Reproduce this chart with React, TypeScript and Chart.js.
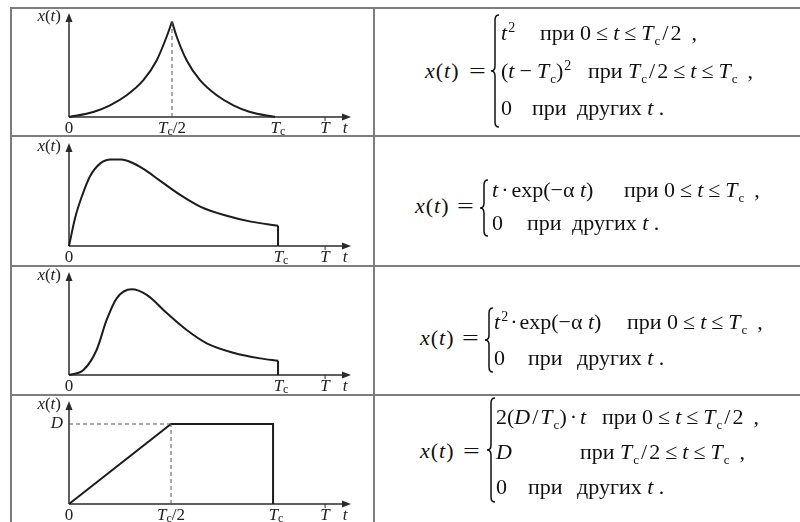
import React, { useEffect, useRef } from "react";
import { Chart, registerables } from "chart.js";
Chart.register(...registerables);

// ---------- data (t in units of Tc, x normalised to peak) ----------
// Row 1: x(t) = t^2 / (t - Tc)^2
const r1RiseT = [0, 0.118, 0.199, 0.28, 0.361, 0.426, 0.474, 0.5];
const r1RiseX = [0, 0.053, 0.123, 0.228, 0.386, 0.596, 0.842, 1.0];
const r1FallT = [0.5, 0.523, 0.571, 0.636, 0.717, 0.798, 0.879, 1.0];
const r1FallX = [1.0, 0.842, 0.596, 0.386, 0.228, 0.123, 0.053, 0];
// Row 2: t * exp(-a t)
const r2T = [0, 0.03, 0.06, 0.1, 0.15, 0.2, 0.25, 0.3, 0.36, 0.43, 0.53, 0.63, 0.75, 0.87, 1.0];
const r2X = [0, 0.33, 0.56, 0.8, 0.95, 0.995, 0.995, 0.96, 0.88, 0.76, 0.59, 0.45, 0.35, 0.28, 0.233];
// Row 3: t^2 * exp(-a t)
const r3T = [0, 0.069, 0.132, 0.18, 0.228, 0.3, 0.372, 0.469, 0.563, 0.659, 0.786, 0.914, 1.0];
const r3X = [0, 0.058, 0.292, 0.642, 0.895, 1.0, 0.934, 0.72, 0.525, 0.37, 0.26, 0.194, 0.167];
// Row 4: trapezoid
const r4T = [0, 0.5, 1.0, 1.0];
const r4X = [0, 1.0, 1.0, 0];
// axis ranges / tick positions
const xMaxes = [1.369, 1.349, 1.349, 1.382];
const yMaxes = [1.091, 1.184, 1.202, 1.2875];
const tPositions = [1.243, 1.225, 1.225, 1.255];
const halfTick = [true, false, false, true];

const pts = (t: number[], x: number[]) => t.map((v, i) => ({ x: v, y: x[i] }));

type Part = { t: string; it?: boolean; sub?: boolean };
const drawRich = (ctx: CanvasRenderingContext2D, parts: Part[], cx: number, cy: number, align: "center" | "right" = "center") => {
  const fontOf = (p: Part) => (p.sub ? "12px 'Liberation Serif'" : `${p.it ? "italic " : ""}17px 'Liberation Serif'`);
  let w = 0;
  parts.forEach((p) => { ctx.font = fontOf(p); w += ctx.measureText(p.t).width; });
  let x = align === "center" ? cx - w / 2 : cx - w;
  ctx.textBaseline = "middle";
  ctx.textAlign = "left";
  parts.forEach((p) => {
    ctx.font = fontOf(p);
    ctx.fillText(p.t, x, cy + (p.sub ? 3 : 0));
    x += ctx.measureText(p.t).width;
  });
};

const axesDecor = {
  id: "axesDecor",
  beforeDatasetsDraw(chart: any, _a: any, opts: any) {
    const { ctx, chartArea: ca, scales } = chart;
    const xs = scales.x, ys = scales.y;
    const x0 = xs.getPixelForValue(0), y0 = ys.getPixelForValue(0);
    ctx.save();
    ctx.strokeStyle = "#2a2a2a";
    ctx.fillStyle = "#2a2a2a";
    ctx.lineWidth = 1.5;
    ctx.beginPath(); ctx.moveTo(x0, y0); ctx.lineTo(x0, ca.top + 5); ctx.stroke();
    ctx.beginPath(); ctx.moveTo(x0, ca.top); ctx.lineTo(x0 - 3.5, ca.top + 9); ctx.lineTo(x0 + 3.5, ca.top + 9); ctx.closePath(); ctx.fill();
    ctx.beginPath(); ctx.moveTo(x0, y0); ctx.lineTo(ca.right - 5, y0); ctx.stroke();
    ctx.beginPath(); ctx.moveTo(ca.right, y0); ctx.lineTo(ca.right - 9, y0 - 3.5); ctx.lineTo(ca.right - 9, y0 + 3.5); ctx.closePath(); ctx.fill();
    const tp = xs.getPixelForValue(opts.tPos);
    ctx.lineWidth = 1;
    ctx.beginPath(); ctx.moveTo(tp, y0); ctx.lineTo(tp, y0 + 4); ctx.stroke();
    ctx.restore();
  },
  afterDatasetsDraw(chart: any, _a: any, opts: any) {
    const { ctx, chartArea: ca, scales } = chart;
    const xs = scales.x, ys = scales.y;
    const x0 = xs.getPixelForValue(0), y0 = ys.getPixelForValue(0);
    ctx.save();
    ctx.fillStyle = "#222";
    const ly = y0 + 12;
    drawRich(ctx, [{ t: "0" }], x0, ly);
    if (opts.half) drawRich(ctx, [{ t: "T", it: true }, { t: "c", sub: true }, { t: "/2" }], xs.getPixelForValue(0.5), ly);
    drawRich(ctx, [{ t: "T", it: true }, { t: "c", sub: true }], xs.getPixelForValue(1) + 3, ly);
    drawRich(ctx, [{ t: "T", it: true }], xs.getPixelForValue(opts.tPos), ly);
    drawRich(ctx, [{ t: "t", it: true }], ca.right - 6, ly);
    drawRich(ctx, [{ t: "x", it: true }, { t: "(" }, { t: "t", it: true }, { t: ")" }], x0 - 8, ca.top + 4, "right");
    if (opts.dLabel) drawRich(ctx, [{ t: "D", it: true }], x0 - 6, ys.getPixelForValue(1), "right");
    ctx.restore();
  },
};

const solid = (data: any[], smooth: boolean) => ({
  data,
  showLine: true,
  borderColor: "#1c1c1c",
  borderWidth: 2,
  pointRadius: 0,
  tension: smooth ? 0.4 : 0,
  cubicInterpolationMode: smooth ? "monotone" : "default",
  clip: false,
});
const dashed = (data: any[]) => ({
  data,
  showLine: true,
  borderColor: "#555",
  borderWidth: 1,
  borderDash: [4, 3],
  pointRadius: 0,
  tension: 0,
  clip: false,
});

const buildDatasets = (row: number) => {
  if (row === 0)
    return [dashed([{ x: 0.5, y: 0 }, { x: 0.5, y: 1 }]), solid(pts(r1RiseT, r1RiseX), true), solid(pts(r1FallT, r1FallX), true)];
  if (row === 1)
    return [solid(pts(r2T, r2X), true), solid([{ x: 1, y: r2X[r2X.length - 1] }, { x: 1, y: 0 }], false)];
  if (row === 2)
    return [solid(pts(r3T, r3X), true), solid([{ x: 1, y: r3X[r3X.length - 1] }, { x: 1, y: 0 }], false)];
  return [
    dashed([{ x: 0, y: 1 }, { x: 0.5, y: 1 }]),
    dashed([{ x: 0.5, y: 0 }, { x: 0.5, y: 1 }]),
    solid(pts(r4T, r4X), false),
  ];
};

const PlotCell = ({ row, top, height, padTop, padBottom }: { row: number; top: number; height: number; padTop: number; padBottom: number }) => {
  const ref = useRef<HTMLCanvasElement>(null);
  useEffect(() => {
    if (!ref.current) return;
    const chart = new Chart(ref.current, {
      type: "scatter",
      data: { datasets: buildDatasets(row) as any },
      plugins: [axesDecor as any],
      options: {
        responsive: false,
        animation: false,
        devicePixelRatio: 1,
        events: [],
        layout: { padding: { left: 57, right: 22, top: padTop, bottom: padBottom } },
        scales: {
          x: { type: "linear", min: 0, max: xMaxes[row], display: false },
          y: { type: "linear", min: 0, max: yMaxes[row], display: false },
        },
        plugins: {
          legend: { display: false },
          tooltip: { enabled: false },
          axesDecor: { tPos: tPositions[row], half: halfTick[row], dLabel: row === 3 },
        } as any,
      },
    });
    return () => chart.destroy();
  }, [row, padTop, padBottom]);
  return <canvas ref={ref} width={361} height={height} style={{ position: "absolute", left: 12, top, width: 361, height }} />;
};

// ---------- formula text ----------
const FS = 22;
const I = ({ c }: { c: string }) => <i>{c}</i>;
const Sb = ({ c }: { c: string }) => <span style={{ fontSize: 13, position: "relative", top: 5, marginLeft: 1 }}>{c}</span>;
const Sp = ({ c }: { c: string }) => <span style={{ fontSize: 14, position: "relative", top: -8, marginLeft: 1 }}>{c}</span>;
const R = ({ c, m = 5 }: { c: string; m?: number }) => <span style={{ margin: `0 ${m}px` }}>{c}</span>;
const Tc = () => (<><I c="T" /><Sb c="c" /></>);
const Half = () => (<><Tc /><R c="/" m={2} />2</>);

const Seg = ({ x, y, children }: { x: number; y: number; children: React.ReactNode }) => (
  <div style={{ position: "absolute", left: x, top: y - 13, height: 26, lineHeight: "26px", whiteSpace: "pre", fontFamily: "'Liberation Serif', serif", fontSize: FS, color: "#111" }}>
    {children}
  </div>
);

const Brace = ({ x1, x2, y1, y2 }: { x1: number; x2: number; y1: number; y2: number }) => {
  const ym = (y1 + y2) / 2;
  const xm = (x1 + x2) / 2;
  const r = 5;
  const d = `M ${x2} ${y1} Q ${xm} ${y1} ${xm} ${y1 + r} L ${xm} ${ym - r} Q ${xm} ${ym} ${x1} ${ym} Q ${xm} ${ym} ${xm} ${ym + r} L ${xm} ${y2 - r} Q ${xm} ${y2} ${x2} ${y2}`;
  return (
    <svg style={{ position: "absolute", left: 0, top: 0, overflow: "visible" }} width={1} height={1}>
      <path d={d} fill="none" stroke="#111" strokeWidth={1.5} />
    </svg>
  );
};

const Xeq = ({ x, ex, y }: { x: number; ex: number; y: number }) => (
  <>
    <Seg x={x} y={y}><I c="x" /><span style={{ margin: "0 1px" }}>(</span><I c="t" /><span style={{ marginLeft: 1 }}>)</span></Seg>
    <Seg x={ex} y={y}><span style={{ display: "inline-block", transform: "scaleX(1.35)", transformOrigin: "left center" }}>=</span></Seg>
  </>
);

const Comma = () => <span style={{ marginLeft: 10 }}>,</span>;

const Pri0 = ({ half }: { half: boolean }) => (
  <>при 0<R c="≤" /><I c="t" /><R c="≤" />{half ? <Half /> : <Tc />}<Comma /></>
);

const Formulas = () => (
  <>
    {/* row 1 */}
    <Xeq x={425} ex={469} y={71} />
    <Brace x1={491} x2={499} y1={15} y2={127} />
    <Seg x={501} y={33}><I c="t" /><Sp c="2" /></Seg>
    <Seg x={540} y={33}><Pri0 half={true} /></Seg>
    <Seg x={501} y={71}>(<I c="t" /><R c="−" /><Tc />)<Sp c="2" /></Seg>
    <Seg x={588} y={71}>при <Half /><R c="≤" /><I c="t" /><R c="≤" /><Tc /><Comma /></Seg>
    <Seg x={501} y={108}>0</Seg>
    <Seg x={532} y={108}>при</Seg>
    <Seg x={577} y={108}>других <I c="t" /> .</Seg>
    {/* row 2 */}
    <Xeq x={415} ex={457} y={206} />
    <Brace x1={480} x2={488} y1={180} y2={236} />
    <Seg x={492} y={190}><I c="t" /><R c="·" m={3} />exp(−α <I c="t" />)</Seg>
    <Seg x={624} y={190}><Pri0 half={false} /></Seg>
    <Seg x={492} y={223}>0</Seg>
    <Seg x={527} y={223}>при</Seg>
    <Seg x={572} y={223}>других <I c="t" /> .</Seg>
    {/* row 3 */}
    <Xeq x={420} ex={462} y={338} />
    <Brace x1={485} x2={493} y1={308} y2={372} />
    <Seg x={494} y={322}><I c="t" /><Sp c="2" /><R c="·" m={2} />exp(−α <I c="t" />)</Seg>
    <Seg x={627} y={322}><Pri0 half={false} /></Seg>
    <Seg x={494} y={358}>0</Seg>
    <Seg x={528} y={358}>при</Seg>
    <Seg x={577} y={358}>других <I c="t" /> .</Seg>
    {/* row 4 */}
    <Xeq x={420} ex={463} y={451} />
    <Brace x1={487} x2={495} y1={398} y2={502} />
    <Seg x={496} y={417}>2(<I c="D" /><R c="/" m={2} /><Tc />)<R c="·" m={3} /><I c="t" /></Seg>
    <Seg x={602} y={417}><Pri0 half={true} /></Seg>
    <Seg x={496} y={452}><I c="D" /></Seg>
    <Seg x={580} y={452}>при <Half /><R c="≤" /><I c="t" /><R c="≤" /><Tc /><Comma /></Seg>
    <Seg x={496} y={487}>0</Seg>
    <Seg x={528} y={487}>при</Seg>
    <Seg x={577} y={487}>других <I c="t" /> .</Seg>
  </>
);

export default function App() {
  const border = "#7d7d7d";
  const hl = (y: number) => <div key={"h" + y} style={{ position: "absolute", left: 11, top: y - 1, width: 789, height: 2, background: border }} />;
  const vl = (x: number) => <div key={"v" + x} style={{ position: "absolute", left: x - 1, top: 7, width: 2, height: 515, background: border }} />;
  return (
    <div style={{ position: "absolute", left: 0, top: 0, width: 800, height: 522, overflow: "hidden", background: "#fff" }}>
      {[8, 136, 266, 395].map(hl)}
      {[11, 374].map(vl)}
      <PlotCell row={0} top={10} height={125} padTop={3} padBottom={18} />
      <PlotCell row={1} top={138} height={127} padTop={5} padBottom={19} />
      <PlotCell row={2} top={268} height={126} padTop={4} padBottom={19} />
      <PlotCell row={3} top={397} height={125} padTop={4} padBottom={18} />
      <Formulas />
    </div>
  );
}
